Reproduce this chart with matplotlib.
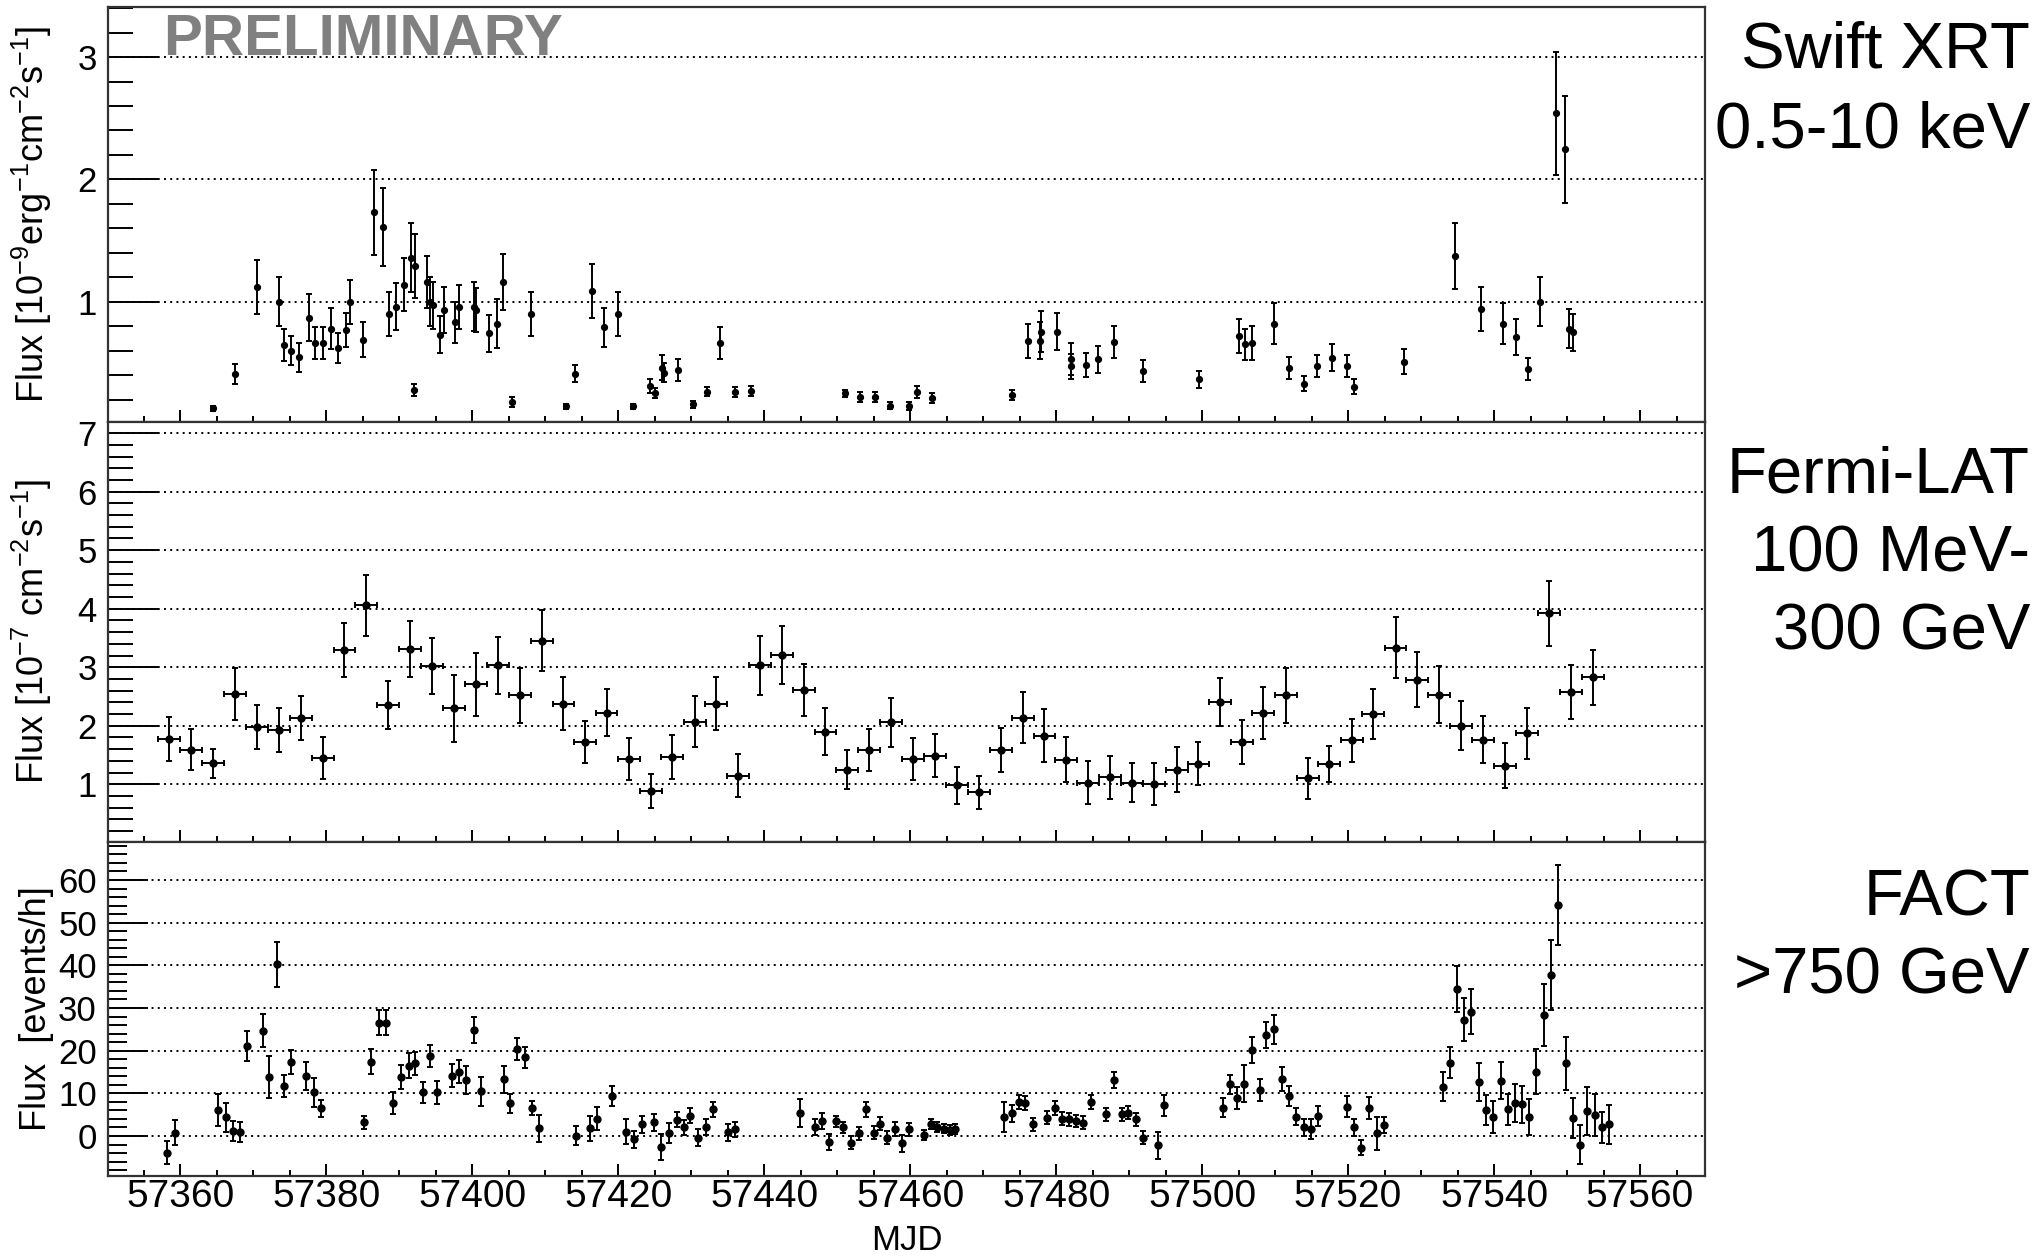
import matplotlib
matplotlib.use("Agg")
import matplotlib.pyplot as plt
from matplotlib.ticker import MultipleLocator

plt.rcParams['font.family'] = ['Liberation Sans', 'DejaVu Sans']
plt.rcParams['mathtext.fontset'] = 'custom'
plt.rcParams['mathtext.rm'] = 'Liberation Sans'
plt.rcParams['mathtext.it'] = 'Liberation Sans:italic'
plt.rcParams['mathtext.bf'] = 'Liberation Sans:bold'

# ------------------------------------------------------------------
# Swift XRT 0.5-10 keV  (MJD, flux [1e-9 erg cm^-2 s^-1], error)
# ------------------------------------------------------------------
xrt_mjd = [57364.5, 57367.5, 57370.5, 57373.5, 57374.2, 57375.2, 57376.3, 57377.6,
           57378.5, 57379.5, 57380.6, 57381.6, 57382.7, 57383.3, 57385.1, 57386.6,
           57387.8, 57388.6, 57389.6, 57390.7, 57391.6, 57392.0, 57392.2, 57393.8,
           57394.2, 57394.6, 57395.6, 57396.2, 57397.6, 57398.2, 57400.2, 57400.5,
           57402.3, 57403.4, 57404.2, 57405.5, 57408.1, 57412.9, 57414.1, 57416.4,
           57418.0, 57420.0, 57422.0, 57424.3, 57425.0, 57426.0, 57426.3, 57428.2,
           57430.2, 57432.2, 57433.9, 57436.0, 57438.2, 57451.1, 57453.1, 57455.2,
           57457.2, 57459.8, 57460.9, 57463.0, 57473.9, 57476.1, 57477.8, 57477.9,
           57480.1, 57482.0, 57482.1, 57484.1, 57485.8, 57487.9, 57491.9, 57499.6,
           57505.0, 57505.9, 57506.9, 57509.8, 57511.9, 57514.0, 57515.8, 57517.8,
           57519.9, 57520.8, 57527.6, 57534.6, 57538.2, 57541.2, 57543.0, 57544.7,
           57546.3, 57548.5, 57549.7, 57550.3, 57550.8]
xrt_flux = [0.13, 0.41, 1.12, 1.00, 0.645, 0.60, 0.545, 0.87,
            0.66, 0.66, 0.78, 0.62, 0.77, 1.00, 0.69, 1.73,
            1.61, 0.90, 0.96, 1.14, 1.36, 0.28, 1.29, 1.16,
            1.00, 0.97, 0.73, 0.93, 0.83, 0.96, 0.96, 0.93,
            0.74, 0.82, 1.16, 0.18, 0.90, 0.145, 0.41, 1.09,
            0.79, 0.90, 0.145, 0.31, 0.255, 0.46, 0.42, 0.44,
            0.16, 0.265, 0.665, 0.26, 0.27, 0.25, 0.22, 0.22,
            0.15, 0.147, 0.26, 0.215, 0.24, 0.68, 0.68, 0.755,
            0.755, 0.53, 0.47, 0.48, 0.53, 0.67, 0.43, 0.365,
            0.72, 0.65, 0.665, 0.82, 0.455, 0.33, 0.47, 0.54,
            0.47, 0.305, 0.51, 1.37, 0.94, 0.82, 0.71, 0.45,
            1.00, 2.54, 2.245, 0.78, 0.75]
xrt_err = [0.02, 0.08, 0.22, 0.20, 0.13, 0.12, 0.12, 0.19,
           0.13, 0.13, 0.17, 0.12, 0.14, 0.18, 0.14, 0.35,
           0.32, 0.18, 0.19, 0.22, 0.28, 0.05, 0.26, 0.21,
           0.20, 0.19, 0.15, 0.19, 0.17, 0.18, 0.20, 0.18,
           0.15, 0.20, 0.23, 0.04, 0.18, 0.02, 0.07, 0.22,
           0.16, 0.18, 0.02, 0.06, 0.04, 0.10, 0.08, 0.09,
           0.03, 0.04, 0.13, 0.04, 0.04, 0.03, 0.04, 0.04,
           0.03, 0.03, 0.05, 0.04, 0.04, 0.14, 0.15, 0.17,
           0.15, 0.13, 0.10, 0.10, 0.11, 0.13, 0.09, 0.07,
           0.14, 0.13, 0.14, 0.17, 0.09, 0.06, 0.09, 0.11,
           0.09, 0.06, 0.10, 0.27, 0.18, 0.17, 0.15, 0.09,
           0.20, 0.50, 0.44, 0.16, 0.15]

# ------------------------------------------------------------------
# Fermi-LAT 100 MeV - 300 GeV  (3-day bins, flux [1e-7 cm^-2 s^-1])
# ------------------------------------------------------------------
lat_mjd = [57358.5, 57361.5, 57364.5, 57367.5, 57370.5, 57373.5, 57376.5, 57379.5,
           57382.5, 57385.5, 57388.5, 57391.5, 57394.5, 57397.5, 57400.5, 57403.5,
           57406.5, 57409.5, 57412.5, 57415.4, 57418.4, 57421.5, 57424.5, 57427.4,
           57430.5, 57433.4, 57436.4, 57439.4, 57442.4, 57445.4, 57448.4, 57451.4,
           57454.4, 57457.4, 57460.4, 57463.4, 57466.4, 57469.4, 57472.4, 57475.4,
           57478.4, 57481.4, 57484.4, 57487.4, 57490.4, 57493.4, 57496.5, 57499.5,
           57502.5, 57505.5, 57508.4, 57511.5, 57514.5, 57517.4, 57520.5, 57523.4,
           57526.5, 57529.5, 57532.4, 57535.5, 57538.5, 57541.5, 57544.5, 57547.5,
           57550.5, 57553.5]
lat_flux = [1.77, 1.59, 1.36, 2.54, 1.98, 1.93, 2.13, 1.45,
            3.29, 4.06, 2.35, 3.31, 3.02, 2.30, 2.71, 3.03,
            2.52, 3.45, 2.38, 1.72, 2.22, 1.43, 0.89, 1.47,
            2.07, 2.38, 1.15, 3.03, 3.21, 2.61, 1.90, 1.25,
            1.58, 2.06, 1.43, 1.49, 0.98, 0.86, 1.59, 2.14,
            1.83, 1.42, 1.03, 1.12, 1.03, 1.00, 1.25, 1.35,
            2.40, 1.72, 2.22, 2.52, 1.10, 1.35, 1.75, 2.20,
            3.33, 2.79, 2.53, 2.00, 1.76, 1.32, 1.87, 3.92,
            2.57, 2.83]
lat_err = [0.38, 0.35, 0.25, 0.45, 0.38, 0.38, 0.38, 0.36,
           0.46, 0.52, 0.41, 0.48, 0.48, 0.57, 0.54, 0.48,
           0.47, 0.52, 0.45, 0.36, 0.40, 0.36, 0.29, 0.38,
           0.43, 0.45, 0.37, 0.51, 0.50, 0.45, 0.40, 0.33,
           0.36, 0.42, 0.36, 0.37, 0.32, 0.28, 0.38, 0.44,
           0.45, 0.38, 0.37, 0.37, 0.34, 0.36, 0.38, 0.37,
           0.41, 0.38, 0.44, 0.47, 0.35, 0.31, 0.37, 0.43,
           0.52, 0.47, 0.49, 0.42, 0.40, 0.39, 0.44, 0.55,
           0.46, 0.47]
lat_bin_half = 1.5

# ------------------------------------------------------------------
# FACT > 750 GeV  (nightly, excess rate [events/h])
# ------------------------------------------------------------------
fact_mjd = [57358.2, 57359.3, 57365.2, 57366.3, 57367.2, 57368.2, 57369.2, 57371.3,
            57372.2, 57373.3, 57374.2, 57375.2, 57377.2, 57378.3, 57379.3, 57385.2,
            57386.2, 57387.2, 57388.2, 57389.2, 57390.3, 57391.3, 57392.2, 57393.3,
            57394.2, 57395.2, 57397.2, 57398.2, 57399.2, 57400.2, 57401.2, 57404.3,
            57405.2, 57406.2, 57407.2, 57408.2, 57409.2, 57414.2, 57416.1, 57417.1,
            57419.1, 57421.1, 57422.1, 57423.3, 57424.9, 57425.9, 57427.0, 57428.1,
            57429.0, 57429.9, 57430.9, 57432.0, 57433.0, 57435.0, 57436.0, 57444.9,
            57446.9, 57447.9, 57448.9, 57449.9, 57450.8, 57451.9, 57453.0, 57453.9,
            57455.0, 57455.9, 57456.8, 57457.9, 57458.9, 57459.9, 57461.9, 57462.9,
            57463.7, 57464.6, 57465.5, 57466.1, 57472.9, 57473.9, 57474.9, 57475.8,
            57476.8, 57478.8, 57479.8, 57480.8, 57481.7, 57482.7, 57483.7, 57484.8,
            57486.9, 57487.9, 57489.0, 57489.9, 57490.9, 57491.9, 57493.9, 57494.8,
            57502.9, 57503.8, 57504.8, 57505.8, 57506.9, 57507.9, 57508.8, 57509.8,
            57510.9, 57511.9, 57512.9, 57513.9, 57514.9, 57515.9, 57519.9, 57520.8,
            57521.8, 57522.8, 57523.9, 57524.9, 57533.0, 57533.9, 57534.9, 57535.9,
            57536.9, 57537.9, 57538.9, 57539.9, 57540.9, 57541.9, 57542.9, 57543.8,
            57544.8, 57545.8, 57546.8, 57547.8, 57548.7, 57549.8, 57550.8, 57551.8,
            57552.8, 57553.8, 57554.8, 57555.8]
fact_rate = [-3.9, 0.8, 6.1, 4.4, 1.2, 1.0, 21.1, 24.7,
             13.9, 40.2, 11.8, 17.4, 14.1, 10.2, 6.5, 3.2,
             17.4, 26.6, 26.6, 7.7, 13.9, 16.5, 17.0, 10.2,
             18.8, 10.2, 14.1, 15.1, 13.1, 24.8, 10.5, 13.3,
             7.7, 20.3, 18.4, 6.6, 1.8, 0.1, 1.8, 4.1,
             9.4, 1.0, -0.8, 2.7, 3.2, -2.6, 0.7, 3.8,
             2.0, 4.8, -0.4, 2.1, 6.25, 0.9, 1.6, 5.3,
             2.1, 3.5, -1.4, 3.5, 2.0, -1.6, 0.6, 6.25,
             0.8, 2.9, -0.4, 1.7, -1.7, 1.6, 0.2, 2.9,
             2.1, 1.7, 1.4, 1.6, 4.5, 5.3, 8.0, 7.8,
             2.7, 4.3, 6.6, 4.1, 3.9, 3.5, 3.1, 8.0,
             5.1, 13.1, 5.1, 5.5, 3.9, -0.4, -2.2, 7.2,
             6.6, 12.1, 9.0, 12.3, 20.2, 10.7, 23.7, 25.0,
             13.3, 9.4, 4.5, 2.0, 1.6, 4.7, 6.9, 2.0,
             -2.7, 6.6, 0.6, 2.6, 11.6, 17.2, 34.4, 27.3,
             29.1, 12.7, 6.1, 4.5, 13.0, 6.25, 7.7, 7.4,
             4.5, 15.1, 28.4, 37.7, 54.1, 17.0, 4.3, -2.0,
             5.9, 4.9, 2.0, 2.7]
fact_err = [2.7, 3.0, 3.7, 3.4, 2.4, 2.3, 3.5, 3.8,
            4.9, 5.2, 2.6, 2.8, 3.2, 3.3, 2.0, 1.6,
            2.9, 3.0, 3.0, 2.6, 2.8, 3.0, 2.7, 2.5,
            2.6, 2.7, 2.7, 2.7, 3.3, 3.1, 3.4, 3.2,
            2.2, 2.6, 2.5, 1.7, 3.1, 2.3, 2.9, 2.7,
            2.3, 2.9, 2.0, 2.0, 2.0, 3.0, 2.4, 1.8,
            1.8, 1.8, 2.0, 1.8, 1.8, 2.0, 1.8, 3.3,
            1.8, 1.8, 1.8, 1.3, 1.4, 1.5, 1.5, 1.7,
            1.5, 1.5, 1.5, 1.6, 2.0, 1.5, 1.2, 1.2,
            1.2, 1.1, 1.1, 1.1, 3.5, 2.0, 1.6, 1.6,
            1.5, 1.5, 1.6, 1.5, 1.5, 1.5, 1.5, 1.6,
            1.5, 1.8, 1.5, 1.5, 1.5, 1.5, 3.2, 2.5,
            2.2, 2.3, 2.6, 4.4, 3.1, 2.6, 3.0, 3.4,
            2.8, 2.3, 2.0, 2.0, 2.4, 2.3, 2.5, 2.1,
            1.7, 2.6, 3.8, 1.8, 3.3, 3.7, 5.4, 5.0,
            5.3, 4.4, 3.5, 3.7, 4.3, 3.6, 4.5, 4.4,
            4.2, 5.3, 7.3, 8.2, 9.4, 6.2, 4.7, 4.5,
            5.7, 4.9, 3.7, 4.5]

# ------------------------------------------------------------------
# Layout (pixel geometry of the original ROOT canvas)
# ------------------------------------------------------------------
W, H = 2043, 1259
X0, X1 = 108, 1705
MJD_RANGE = (57350.1, 57568.9)

fig = plt.figure(figsize=(W / 100, H / 100), dpi=100)


def add_panel(top_px, bot_px):
    return fig.add_axes([X0 / W, 1 - bot_px / H, (X1 - X0) / W, (bot_px - top_px) / H])


ax_xrt = add_panel(7, 422)
ax_lat = add_panel(422, 842)
ax_fact = add_panel(842, 1176)

ebar_kw = dict(fmt='o', color='black', ecolor='black', elinewidth=1.4,
               capsize=2.2, capthick=1.4, mec='black')

ax_xrt.errorbar(xrt_mjd, xrt_flux, yerr=xrt_err, ms=4.2, **ebar_kw)
ax_lat.errorbar(lat_mjd, lat_flux, yerr=lat_err, xerr=lat_bin_half, ms=5, **ebar_kw)
ax_fact.errorbar(fact_mjd, fact_rate, yerr=fact_err, ms=5, **ebar_kw)

ax_xrt.set_ylim(0.016, 3.41)
ax_lat.set_ylim(0.014, 7.19)
ax_fact.set_ylim(-9.37, 68.9)

panels = [
    (ax_xrt, 1, 0.2, 36, 18, r'Flux [10$^{-9}$erg$^{-1}$cm$^{-2}$s$^{-1}$]'),
    (ax_lat, 1, 0.2, 36, 18, r'Flux [10$^{-7}$ cm$^{-2}$s$^{-1}$]'),
    (ax_fact, 10, 2, 29, 14, 'Flux  [events/h]'),
]
for ax, ymaj, ymin, ylen, ylen_min, ylabel in panels:
    ax.set_xlim(*MJD_RANGE)
    ax.xaxis.set_major_locator(MultipleLocator(20))
    ax.xaxis.set_minor_locator(MultipleLocator(5))
    ax.yaxis.set_major_locator(MultipleLocator(ymaj))
    ax.yaxis.set_minor_locator(MultipleLocator(ymin))
    ax.tick_params(axis='x', which='major', direction='in', length=8.5, width=1.4,
                   top=False, labelbottom=False, labelsize=28, pad=2)
    ax.tick_params(axis='x', which='minor', direction='in', length=4.5, width=1.4, top=False)
    ax.tick_params(axis='y', which='major', direction='in', length=ylen, width=1.4,
                   right=False, labelsize=25, pad=8)
    ax.tick_params(axis='y', which='minor', direction='in', length=ylen_min, width=1.4,
                   right=False)
    ax.yaxis.grid(True, which='major', color='black', linestyle=(0, (1, 2.2)), linewidth=1.4)
    ax.set_axisbelow(True)
    for sp in ax.spines.values():
        sp.set_color('#333333')
        sp.set_linewidth(1.6)
    ax.set_ylabel(ylabel, fontsize=26)
    ax.yaxis.set_label_coords(-0.034, 0.5)

ax_fact.tick_params(axis='x', which='major', labelbottom=True)
ax_fact.set_xlabel('MJD', fontsize=25)
ax_fact.xaxis.set_label_coords(0.5, -0.145)

# ------------------------------------------------------------------
# Annotations
# ------------------------------------------------------------------
fig.text(163 / W, 1 - 55 / H, 'PRELIMINARY', fontsize=42, fontweight='bold',
         color='#808080', ha='left', va='baseline')

side_labels = [
    ('Swift XRT', 68), ('0.5-10 keV', 147),
    ('Fermi-LAT', 492), ('100 MeV-', 571), ('300 GeV', 650),
    ('FACT', 916), ('>750 GeV', 994),
]
for txt, base_px in side_labels:
    fig.text(2030 / W, 1 - base_px / H, txt, fontsize=47, ha='right', va='baseline')

fig.savefig('out.png', dpi=100)
